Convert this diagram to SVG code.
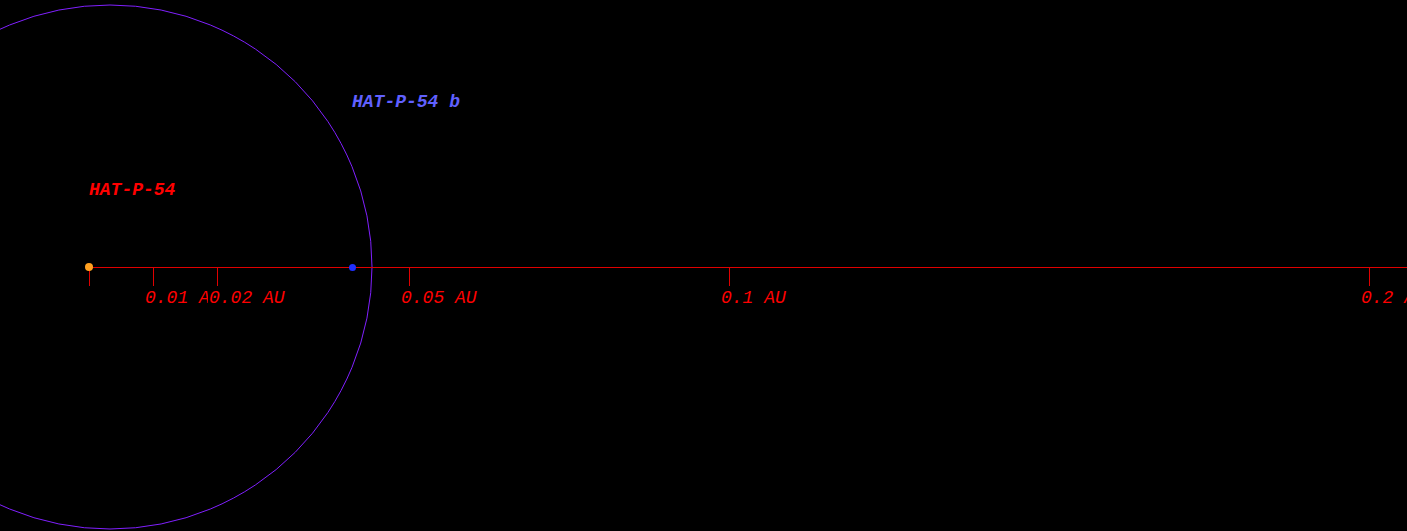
<svg xmlns="http://www.w3.org/2000/svg" width="1407" height="531" viewBox="0 0 1407 531">
<style>
.tick{stroke:#e00000;stroke-width:1}
.lbl{font-family:"Liberation Mono",monospace;font-size:18px;font-style:italic;fill:#ff0000}
.name{font-family:"Liberation Mono",monospace;font-size:18px;font-style:italic;font-weight:bold}
</style>
<defs>
<clipPath id="clip1"><rect x="140" y="280" width="68" height="30"/></clipPath>
</defs>
<rect x="0" y="0" width="1407" height="531" fill="#000000"/>
<g id="orbit">
<circle cx="110" cy="267" r="262" fill="none" stroke="#8020ff" stroke-width="1"/>
</g>
<g id="axis">
<line x1="89" y1="267.5" x2="1407" y2="267.5" class="tick"/>
<line x1="89.5" y1="267" x2="89.5" y2="286" class="tick"/>
<line x1="153.5" y1="267" x2="153.5" y2="286" class="tick"/>
<line x1="217.5" y1="267" x2="217.5" y2="286" class="tick"/>
<line x1="409.5" y1="267" x2="409.5" y2="286" class="tick"/>
<line x1="729.5" y1="267" x2="729.5" y2="286" class="tick"/>
<line x1="1369.5" y1="267" x2="1369.5" y2="286" class="tick"/>
<text x="145" y="303" class="lbl" clip-path="url(#clip1)">0.01 AU</text>
<text x="209" y="303" class="lbl">0.02 AU</text>
<text x="401" y="303" class="lbl">0.05 AU</text>
<text x="721" y="303" class="lbl">0.1 AU</text>
<text x="1361" y="303" class="lbl">0.2 AU</text>
</g>
<g id="star">
<circle cx="89" cy="267" r="4" fill="#ffa020"/>
<text x="89" y="195" class="name" fill="#ff0000">HAT-P-54</text>
</g>
<g id="planet">
<circle cx="352.5" cy="267.5" r="3.5" fill="#2030ff"/>
<text x="352" y="107" class="name" fill="#6060ff">HAT-P-54 b</text>
</g>
</svg>
